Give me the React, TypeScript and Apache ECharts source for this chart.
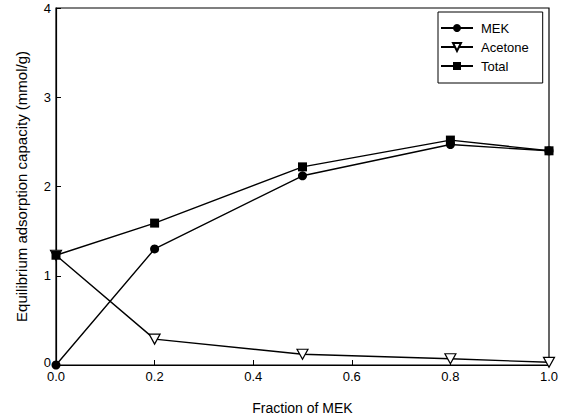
import React, { useEffect, useRef } from "react";
import * as echarts from "echarts";

const xValues = [0.0, 0.2, 0.5, 0.8, 1.0];
const mek = [0.0, 1.3, 2.12, 2.47, 2.4];
const acetone = [1.23, 0.29, 0.12, 0.07, 0.03];
const total = [1.23, 1.59, 2.22, 2.52, 2.4];
const seriesNames = ["MEK", "Acetone", "Total"];
const xTitle = "Fraction of MEK";
const yTitle = "Equilibrium adsorption capacity (mmol/g)";

const FONT = "Liberation Sans, Arial, sans-serif";
const invTriangle = "path://M0,0 L10,0 L5,9 Z";

export default function App() {
  const ref = useRef<HTMLDivElement>(null);
  useEffect(() => {
    if (!ref.current) return;
    const chart = echarts.init(ref.current, undefined, { renderer: "svg" });
    const pair = (ys: number[]) => xValues.map((x, i) => [x, ys[i]]);
    const lineStyle = { color: "#000", width: 1.4 };
    chart.setOption({
      animation: false,
      backgroundColor: "#fff",
      grid: { left: 56, right: 15, top: 8, bottom: 54, show: true, borderColor: "#000", borderWidth: 1.2, backgroundColor: "transparent" },
      legend: {
        orient: "vertical",
        left: 438,
        top: 12,
        width: 102,
        padding: [9, 14, 10, 2],
        itemGap: 5,
        itemWidth: 32,
        itemHeight: 10,
        borderColor: "#000",
        borderWidth: 1,
        backgroundColor: "#fff",
        textStyle: { fontFamily: FONT, fontSize: 13, lineHeight: 14, color: "#000", padding: [0, 0, 0, 3] },
        data: seriesNames,
      },
      xAxis: {
        type: "value",
        min: 0,
        max: 1,
        interval: 0.2,
        name: xTitle,
        nameLocation: "middle",
        nameGap: 36,
        nameTextStyle: { fontFamily: FONT, fontSize: 14, color: "#000" },
        axisLine: { show: true, lineStyle: { color: "#000", width: 1.2 } },
        axisTick: { show: true, inside: true, length: 5, lineStyle: { color: "#000" } },
        axisLabel: { fontFamily: FONT, fontSize: 13, color: "#000", margin: 5, lineHeight: 13, formatter: (v: number) => v.toFixed(1) },
        splitLine: { show: false },
      },
      yAxis: {
        type: "value",
        min: 0,
        max: 4,
        interval: 1,
        name: yTitle,
        nameLocation: "middle",
        nameGap: 27,
        nameTextStyle: { fontFamily: FONT, fontSize: 15, color: "#000" },
        axisLine: { show: true, lineStyle: { color: "#000", width: 1.2 } },
        axisTick: { show: true, inside: true, length: 5, lineStyle: { color: "#000" } },
        axisLabel: {
          fontFamily: FONT,
          fontSize: 13,
          color: "#000",
          margin: 5,
          lineHeight: 13,
          formatter: (v: number) => (v === 0 ? "{z|0}" : String(v)),
          rich: { z: { fontFamily: FONT, fontSize: 13, color: "#000", lineHeight: 13, padding: [0, 0, 6, 0] } },
        },
        splitLine: { show: false },
      },
      series: [
        {
          name: "MEK",
          type: "line",
          data: pair(mek),
          symbol: "circle",
          symbolSize: 9,
          lineStyle,
          itemStyle: { color: "#000" },
          z: 3,
        },
        {
          name: "Acetone",
          type: "line",
          data: pair(acetone),
          symbol: invTriangle,
          symbolSize: [11, 10],
          lineStyle,
          itemStyle: { color: "#fff", borderColor: "#000", borderWidth: 1.2 },
          z: 2,
        },
        {
          name: "Total",
          type: "line",
          data: pair(total),
          symbol: "rect",
          symbolSize: 9,
          lineStyle,
          itemStyle: { color: "#000" },
          z: 4,
        },
      ],
    });
    return () => chart.dispose();
  }, []);
  return <div ref={ref} style={{ width: 564, height: 420, position: "absolute", left: 0, top: 0 }} />;
}
